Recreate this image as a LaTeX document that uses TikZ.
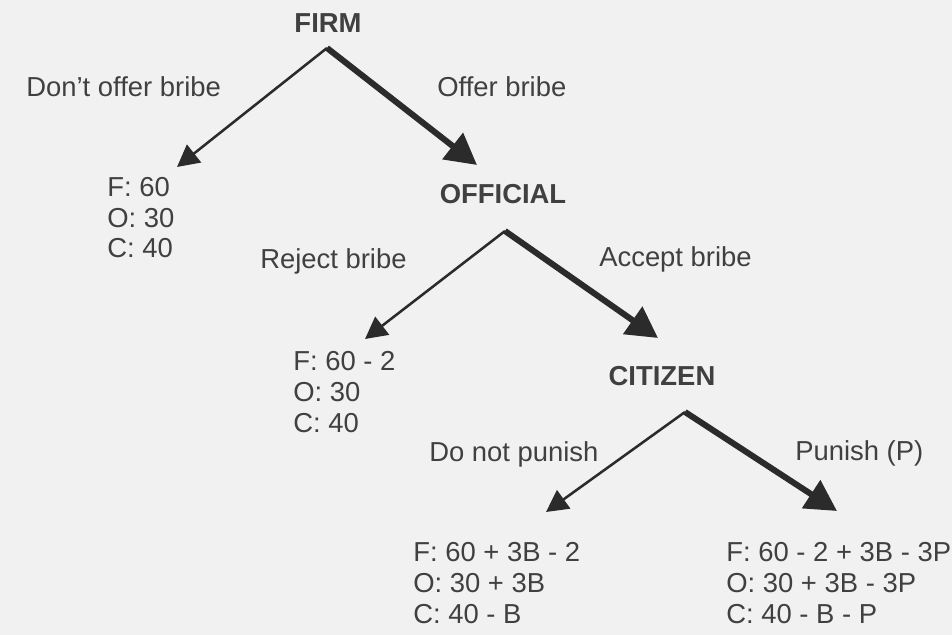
\documentclass[tikz,border=0pt]{standalone}
\usepackage{fontspec}
\setmainfont{Liberation Sans}
\usetikzlibrary{arrows.meta}
\definecolor{inkgray}{HTML}{2B2B2B}
\definecolor{textgray}{HTML}{404040}
\definecolor{papergray}{HTML}{F1F1F1}

\begin{document}
\begin{tikzpicture}[x=0.025cm,y=-0.025cm,
    every node/.style={inner sep=0pt,text=textgray,font=\fontsize{19.5}{21.7}\selectfont},
    player/.style={font=\fontsize{19.5}{21.7}\selectfont\bfseries,anchor=base},
    move/.style={anchor=base west},
    payoff/.style={anchor=base west,align=left},
    branch/.style={draw=inkgray,line width=1.8pt,-{Triangle[length=15.5pt,width=16pt]}},
    choice/.style={draw=inkgray,line width=4.3pt,-{Triangle[length=22pt,width=23pt]}}]
    \fill[papergray] (0,0) rectangle (952,635);
    \useasboundingbox (0,0) rectangle (952,635);
    % players and their decision points
    \node[player] (firm) at (328,33) {FIRM};
    \node[player] (official) at (503,204) {OFFICIAL};
    \node[player] (citizen) at (662,385) {CITIZEN};
    \coordinate (firm-v) at (327,48);
    \coordinate (official-v) at (505,231);
    \coordinate (citizen-v) at (685,412);
    % ends of the branches
    \coordinate (nobribe-tip) at (177,167);
    \coordinate (bribe-tip) at (477,165);
    \coordinate (reject-tip) at (365,339);
    \coordinate (accept-tip) at (658,338);
    \coordinate (nopunish-tip) at (546,512);
    \coordinate (punish-tip) at (837,511);
    % moves
    \node[move] (nobribe) at (26,97) {Don’t offer bribe};
    \node[move] (bribe) at (437,97) {Offer bribe};
    \node[move] (reject) at (260,269) {Reject bribe};
    \node[move] (accept) at (599,267) {Accept bribe};
    \node[move] (nopunish) at (429,461) {Do not punish};
    \node[move] (punish) at (795,460) {Punish (P)};
    % payoffs (base = last line)
    \node[payoff] (out1) at (107,258) {F: 60\\O: 30\\C: 40};
    \node[payoff] (out2) at (293,432) {F: 60 - 2\\O: 30\\C: 40};
    \node[payoff] (out3) at (413,623) {F: 60 + 3B - 2\\O: 30 + 3B\\C: 40 - B};
    \node[payoff] (out4) at (726,623) {F: 60 - 2 + 3B - 3P\\O: 30 + 3B - 3P\\C: 40 - B - P};
    % branches
    \draw[branch] (firm-v) -- (nobribe-tip);
    \draw[choice] (firm-v) -- (bribe-tip);
    \draw[branch] (official-v) -- (reject-tip);
    \draw[choice] (official-v) -- (accept-tip);
    \draw[branch] (citizen-v) -- (nopunish-tip);
    \draw[choice] (citizen-v) -- (punish-tip);
\end{tikzpicture}
\end{document}
